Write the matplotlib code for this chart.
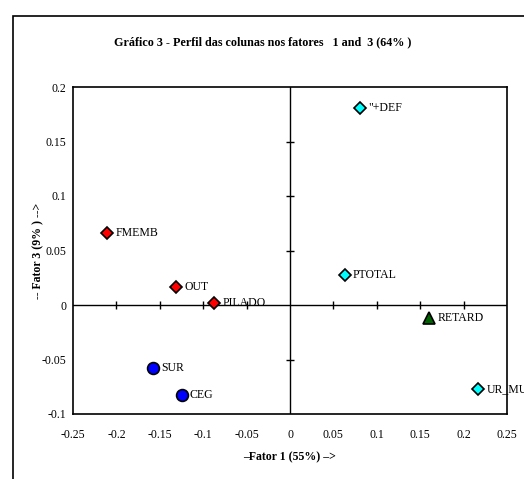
import matplotlib
matplotlib.use("Agg")
import matplotlib.pyplot as plt
from matplotlib.patches import Rectangle

plt.rcParams['font.family'] = ['Liberation Serif', 'DejaVu Serif']

# column profiles on factors 1 and 3
labels = ["FMEMB", "OUT", "PILADO", "SUR", "CEG", '"+DEF', "PTOTAL", "RETARD", "UR_MULT"]
fator1 = [-0.211, -0.131, -0.087, -0.158, -0.125, 0.081, 0.063, 0.160, 0.217]
fator3 = [0.066, 0.0165, 0.002, -0.0575, -0.083, 0.181, 0.0275, -0.012, -0.077]
groups = ["red", "red", "red", "blue", "blue", "cyan", "cyan", "green", "cyan"]

xticks = [-0.25, -0.2, -0.15, -0.1, -0.05, 0, 0.05, 0.1, 0.15, 0.2, 0.25]
yticks = [-0.1, -0.05, 0, 0.05, 0.1, 0.15, 0.2]

styles = {
    "red": dict(marker="D", color="#ff0000", ms=6.5),
    "blue": dict(marker="o", color="#0000ff", ms=8.5),
    "cyan": dict(marker="D", color="#00ffff", ms=6.5),
    "green": dict(marker="^", color="#006400", ms=9),
}

fig = plt.figure(figsize=(5.24, 4.79), dpi=100)
fig.patches.append(Rectangle((13/524, -0.1), 1.2, 1.1 - 16/479, transform=fig.transFigure,
                             fill=False, edgecolor="black", lw=1.2))
ax = fig.add_axes([73/524, 65/479, 434/524, 327/479])

ax.axhline(0, color="black", lw=1, zorder=1)
ax.axvline(0, color="black", lw=1, zorder=1)
# cross ticks on the zero lines
xt_in = [t for t in xticks if t != 0 and abs(t) < 0.25]
yt_in = [t for t in yticks if t != 0 and -0.1 < t < 0.2]
ax.plot(xt_in, [0]*len(xt_in), ls="none", marker="|", ms=5.5, mew=1, color="black", zorder=1)
ax.plot([0]*len(yt_in), yt_in, ls="none", marker="_", ms=5.5, mew=1, color="black", zorder=1)

for x, y, lab, g in zip(fator1, fator3, labels, groups):
    st = styles[g]
    ax.plot(x, y, ls="none", marker=st["marker"], ms=st["ms"], mfc=st["color"],
            mec="black", mew=1.2, zorder=3, clip_on=False)
    ax.annotate(lab, (x, y), xytext=(6, 0), textcoords="offset points",
                va="center", ha="left", fontsize=8.5, zorder=4)

ax.set_xlim(-0.25, 0.25)
ax.set_ylim(-0.1, 0.2)
ax.set_xticks(xticks)
ax.set_yticks(yticks)
ax.set_xticklabels([f"{t:g}" for t in xticks])
ax.set_yticklabels([f"{t:g}" for t in yticks])
ax.tick_params(length=0, labelsize=8.5)
ax.tick_params(axis="x", pad=11)
ax.tick_params(axis="y", pad=5)
for s in ax.spines.values():
    s.set_linewidth(1.2)

ax.set_xlabel("\u2013Fator 1 (55%) \u2013>", fontsize=8.5, fontweight="bold", labelpad=7)
ax.set_ylabel("-- Fator 3 (9% ) -->", fontsize=8.5, fontweight="bold", labelpad=-2)

fig.text(263/524, 1 - 42/479, "Gráfico 3 - Perfil das colunas nos fatores   1 and  3 (64% )",
         ha="center", va="center", fontsize=8.7, fontweight="bold")

fig.savefig("out.png", dpi=100)
